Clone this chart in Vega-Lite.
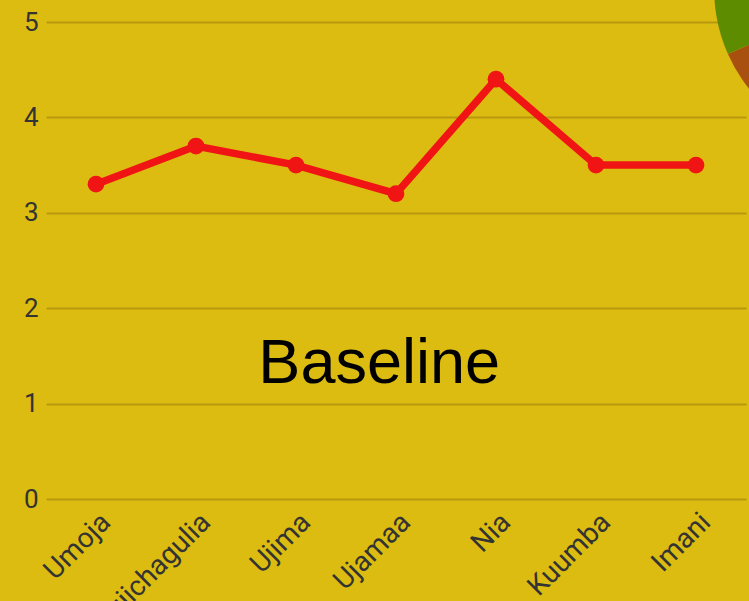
{
  "$schema": "https://vega.github.io/schema/vega-lite/v6.json",
  "width": 700,
  "height": 477,
  "autosize": {"type": "none"},
  "padding": {"left": 46, "top": 22, "right": 3, "bottom": 102},
  "background": "#DCBC10",
  "config": {"view": {"stroke": null}, "font": "Roboto"},
  "layer": [
    {
      "data": {"values": [
        {"name": "Umoja", "value": 3.3},
        {"name": "Kujichagulia", "value": 3.7},
        {"name": "Ujima", "value": 3.5},
        {"name": "Ujamaa", "value": 3.2},
        {"name": "Nia", "value": 4.4},
        {"name": "Kuumba", "value": 3.5},
        {"name": "Imani", "value": 3.5}
      ]},
      "encoding": {
        "x": {"field": "name", "type": "nominal", "sort": null,
          "scale": {"type": "point", "padding": 0.5},
          "axis": {"title": null, "labelAngle": -45, "labelFontSize": 28, "labelColor": "#333333", "ticks": false, "domain": false, "grid": false, "labelOverlap": false, "labelBound": false, "labelFlush": false, "labelPadding": 9}},
        "y": {"field": "value", "type": "quantitative",
          "scale": {"domain": [0, 5]},
          "axis": {"title": null, "values": [0, 1, 2, 3, 4, 5], "labelFontSize": 26, "labelColor": "#333333", "ticks": false, "domain": false, "grid": true, "gridColor": "#B8980F", "gridWidth": 2, "labelPadding": 8}}
      },
      "layer": [
        {"mark": {"type": "line", "color": "#F01414", "strokeWidth": 7.5}},
        {"mark": {"type": "point", "filled": true, "size": 280, "color": "#F01414", "opacity": 1}}
      ]
    },
    {
      "data": {"values": [
        {"slice": "A", "share": 246},
        {"slice": "B", "share": 114}
      ]},
      "mark": {"type": "arc", "radius": 160},
      "encoding": {
        "theta": {"field": "share", "type": "quantitative", "stack": true},
        "color": {"field": "slice", "type": "nominal", "scale": {"range": ["#A8500F", "#5E8C00"]}, "legend": null},
        "x": {"datum": 1.183, "type": "quantitative", "scale": {"domain": [0, 1], "nice": false}, "axis": null},
        "y": {"datum": 5.346, "type": "quantitative", "scale": {"domain": [0, 5], "nice": false}, "axis": null}
      }
    },
    {
      "data": {"values": [{"label": "Baseline"}]},
      "mark": {"type": "text", "font": "Liberation Sans", "fontSize": 63, "color": "#000000", "align": "center", "baseline": "middle"},
      "encoding": {
        "text": {"field": "label"},
        "x": {"datum": 0.476, "type": "quantitative", "scale": {"domain": [0, 1], "nice": false}, "axis": null},
        "y": {"datum": 1.41, "type": "quantitative", "scale": {"domain": [0, 5], "nice": false}, "axis": null}
      }
    }
  ],
  "resolve": {"scale": {"x": "independent", "y": "independent", "color": "independent"}}
}
